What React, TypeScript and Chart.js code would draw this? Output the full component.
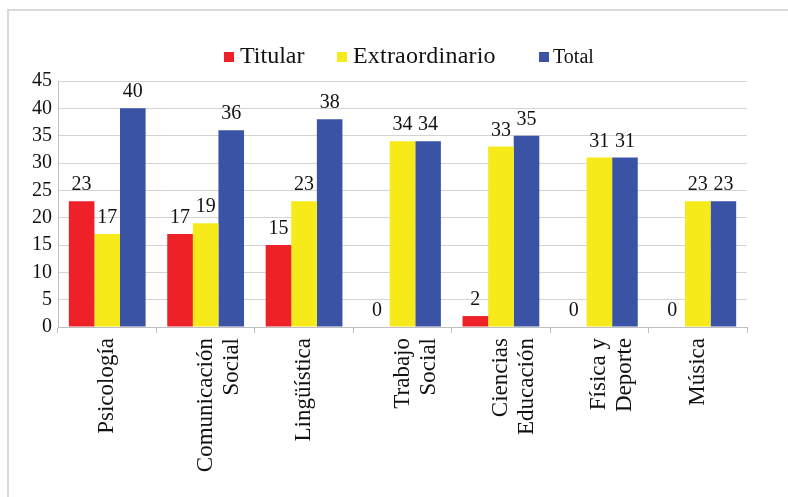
import React, { useEffect, useRef } from "react";
import { Chart, registerables } from "chart.js";

Chart.register(...registerables);

const categories: string[][] = [
  ["Psicología"],
  ["Comunicación", "Social"],
  ["Lingüística"],
  ["Trabajo", "Social"],
  ["Ciencias", "Educación"],
  ["Física y", "Deporte"],
  ["Música"],
];
const seriesNames = ["Titular", "Extraordinario", "Total"];
const titular = [23, 17, 15, 0, 2, 0, 0];
const extraordinario = [17, 19, 23, 34, 33, 31, 23];
const total = [40, 36, 38, 34, 35, 31, 23];
const colors = ["#ED2127", "#F6EA1A", "#3A53A4"];

const FONT = "'Liberation Serif', 'Times New Roman', serif";

const framePlugin = {
  id: "frame",
  beforeDraw(chart: any) {
    const ctx = chart.ctx;
    ctx.save();
    ctx.strokeStyle = "#d9d9d9";
    ctx.lineWidth = 2;
    ctx.beginPath();
    ctx.moveTo(8, chart.height);
    ctx.lineTo(8, 10);
    ctx.lineTo(chart.width, 10);
    ctx.stroke();
    ctx.restore();
  },
};

const legendPlugin = {
  id: "customLegend",
  afterDraw(chart: any) {
    const ctx = chart.ctx;
    const xs = [224, 337, 539];
    const sizes = [24, 24, 20];
    const spacing = [0, 0.2, 0];
    ctx.save();
    chart.data.datasets.forEach((ds: any, i: number) => {
      ctx.fillStyle = ds.backgroundColor;
      ctx.fillRect(xs[i], 52, 10, 10);
      ctx.fillStyle = "#111";
      ctx.font = `${sizes[i]}px ${FONT}`;
      (ctx as any).letterSpacing = `${spacing[i]}px`;
      ctx.textAlign = "left";
      ctx.textBaseline = "alphabetic";
      ctx.fillText(ds.label, xs[i] + (i === 2 ? 14 : 16), 63);
    });
    ctx.restore();
  },
};

const valueLabelPlugin = {
  id: "valueLabels",
  afterDatasetsDraw(chart: any) {
    const ctx = chart.ctx;
    ctx.save();
    ctx.font = `20px ${FONT}`;
    ctx.fillStyle = "#111";
    ctx.textAlign = "center";
    ctx.textBaseline = "alphabetic";
    chart.data.datasets.forEach((ds: any, di: number) => {
      const meta = chart.getDatasetMeta(di);
      meta.data.forEach((bar: any, i: number) => {
        ctx.fillText(String(ds.data[i]), bar.x, bar.y - 11);
      });
    });
    ctx.restore();
  },
};

export default function App() {
  const ref = useRef<HTMLCanvasElement>(null);
  useEffect(() => {
    if (!ref.current) return;
    const chart = new Chart(ref.current, {
      type: "bar",
      data: {
        labels: categories,
        datasets: [
          { label: seriesNames[0], data: titular, backgroundColor: colors[0] },
          { label: seriesNames[1], data: extraordinario, backgroundColor: colors[1] },
          { label: seriesNames[2], data: total, backgroundColor: colors[2] },
        ],
      },
      options: {
        responsive: false,
        animation: false,
        devicePixelRatio: 1,
        layout: { padding: { top: 81, right: 41, left: 0, bottom: 0 } },
        plugins: {
          legend: { display: false },
          tooltip: { enabled: false },
        },
        datasets: {
          bar: { categoryPercentage: 0.78, barPercentage: 1 },
        },
        scales: {
          x: {
            afterFit: (s: any) => {
              s.height = 170;
            },
            grid: {
              offset: true,
              drawOnChartArea: false,
              drawTicks: true,
              tickLength: 6,
              color: "#bfbfbf",
            },
            border: { display: true, color: "#bfbfbf", width: 1 },
            ticks: {
              autoSkip: false,
              minRotation: 90,
              maxRotation: 90,
              padding: 5,
              color: "#111",
              font: { family: FONT, size: 23, lineHeight: 1.13 },
            },
          },
          y: {
            min: 0,
            max: 45,
            afterFit: (s: any) => {
              s.width = 58;
            },
            grid: { color: "#d4d4d4", lineWidth: 1, drawTicks: false },
            border: { display: true, color: "#bfbfbf", width: 1 },
            ticks: {
              stepSize: 5,
              padding: 6,
              color: "#111",
              font: { family: FONT, size: 20 },
            },
          },
        },
      },
      plugins: [framePlugin, legendPlugin, valueLabelPlugin],
    });
    return () => chart.destroy();
  }, []);
  return (
    <div style={{ position: "absolute", left: 0, top: 0, width: 788, height: 497, background: "#fff" }}>
      <canvas ref={ref} width={788} height={497} style={{ display: "block" }} />
    </div>
  );
}
